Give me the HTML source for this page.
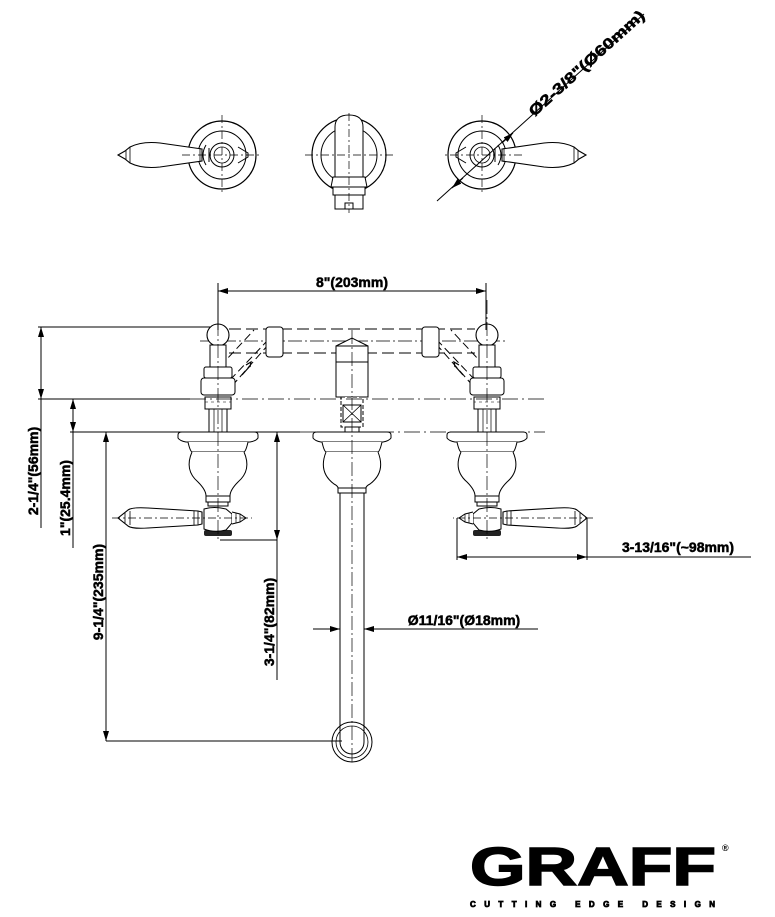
<!DOCTYPE html>
<html><head><meta charset="utf-8"><style>
html,body{margin:0;padding:0;background:#fff;}
svg{display:block;}
text{font-family:"Liberation Sans",Arial,sans-serif;font-weight:bold;fill:#000;}
.d{stroke:#000;stroke-width:0.5;}
</style></head><body>
<svg width="775" height="917" viewBox="0 0 775 917" xmlns="http://www.w3.org/2000/svg">
<defs>
<marker id="a" viewBox="0 0 10 6" refX="10" refY="3" markerWidth="10" markerHeight="6" orient="auto-start-reverse" markerUnits="userSpaceOnUse"><path d="M0,0 L10,3 L0,6 z" fill="#000"/></marker>
<g id="topv">
  <circle cx="0" cy="0" r="34" fill="#fff" stroke="#000" stroke-width="1.2"/>
  <circle cx="0" cy="0" r="24" fill="none" stroke="#000" stroke-width="1"/>
  <circle cx="0" cy="0" r="12" fill="none" stroke="#000" stroke-width="1"/>
  <circle cx="0" cy="0" r="8" fill="none" stroke="#000" stroke-width="0.8"/>
  <path d="M-16,-10 Q-22,0 -16,10 M-13,-7 L-13,7" fill="none" stroke="#000"/>
  <path d="M-20,-6 L-62,-12 Q-80,-14 -92,-8 L-97,-4 L-104,0 L-97,4 L-92,8 Q-80,14 -62,12 L-20,6 Z" fill="#fff" stroke="#000" stroke-width="1.1"/>
  <path d="M-92,-8 L-92,8 M-96,-5 L-96,5 M-22,-7 L-22,7" stroke="#000" stroke-width="0.8"/>
  <path d="M16,-8 L26,-2 L26,2 L16,8" fill="none" stroke="#000"/>
  <path d="M-40,0 H40 M0,-40 V40" stroke="#000" stroke-width="0.7" stroke-dasharray="8,3,2,3"/>
</g>
<g id="valve">
  <path d="M6,395 L50,345 M-6,375 L36,330 M12,380 L50,340" stroke="#000" stroke-width="1" stroke-dasharray="8,4" fill="none"/>
  <path d="M24,375 l8,-9 m-4,-1 l5,-3 l-1,5" stroke="#000" stroke-width="1.2" fill="none"/>
  <circle cx="0" cy="335" r="11" fill="#fff" stroke="#000" stroke-width="1.1"/>
  <rect x="-8" y="345" width="16" height="22" fill="#fff" stroke="#000"/>
  <rect x="-14" y="367" width="28" height="11" rx="2" fill="#fff" stroke="#000"/>
  <rect x="-17" y="378" width="34" height="17" rx="3" fill="#fff" stroke="#000"/>
  <rect x="-13" y="397" width="26" height="12" fill="#fff" stroke="#000"/>
  <path d="M-13,402 H13" stroke="#000" stroke-width="0.6" stroke-dasharray="3,3"/>
  <rect x="-9" y="409" width="18" height="23" fill="#fff" stroke="#000"/>
  <path d="M-4,409 V432 M4,409 V432" stroke="#000" stroke-width="0.7"/>
  <path d="M-40,435 Q-40,432 -36,432 H36 Q40,432 40,435 L40,438 Q38,441 32,442 H-32 Q-38,441 -40,438 Z" fill="#fff" stroke="#000"/>
  <path d="M-30,442 Q-28,451 -26,452 H26 Q28,451 30,442" fill="#fff" stroke="#000"/>
  <path d="M-26,452 Q-34,470 -20,482 Q-12,490 -12,496 H12 Q12,490 20,482 Q34,470 26,452" fill="#fff" stroke="#000"/>
  <rect x="-12" y="496" width="24" height="6" fill="#fff" stroke="#000"/>
  <rect x="-10" y="502" width="20" height="4" fill="#fff" stroke="#000"/>
  <rect x="-14" y="530" width="28" height="6" rx="2" fill="#222"/>
  <path d="M-14,509 Q-4,506 8,509 L14,514 V523 L8,530 Q-4,533 -14,529 Z" fill="#fff" stroke="#000"/>
  <path d="M14,512 L22,514 L28,518 L22,522 L14,524" fill="#fff" stroke="#000"/>
  <path d="M18,513 V523 M22,514 V522" stroke="#000" stroke-width="0.7"/>
  <path d="M-16,512 L-20,511 L-70,508 Q-86,507 -90,510 L-100,518 L-90,526 Q-86,529 -70,528 L-20,525 L-16,524 Z" fill="#fff" stroke="#000" stroke-width="1.1"/>
  <path d="M-20,511 V525 M-24,511 V525 M-88,511 V525 M-93,513 V523" stroke="#000" stroke-width="0.8"/>
  <path d="M-106,518 H34" stroke="#000" stroke-width="0.7" stroke-dasharray="8,3,2,3"/>
  <path d="M0,300 V540" stroke="#000" stroke-width="0.7" stroke-dasharray="14,3,2,3"/>
  <rect x="48" y="327" width="17" height="30" rx="3" fill="#fff" stroke="#000"/>
</g>
</defs>

<use href="#topv" transform="translate(222,155)"/>
<use href="#topv" transform="translate(482,155) scale(-1,1)"/>
<g transform="translate(349,155)">
  <circle r="37" fill="#fff" stroke="#000" stroke-width="1.2"/>
  <circle r="28" fill="none" stroke="#000"/>
  <path d="M-14,24 V-28 Q-14,-40 0,-40 Q14,-40 14,-28 V24" fill="#fff" stroke="#000"/>
  <path d="M-16,22 H16 L18,32 H-18 Z" fill="#fff" stroke="#000"/>
  <rect x="-16" y="32" width="32" height="8" fill="#fff" stroke="#000"/>
  <rect x="-14" y="40" width="28" height="14" fill="#fff" stroke="#000"/>
  <rect x="-4" y="48" width="8" height="6" fill="#fff" stroke="#000"/>
  <path d="M-44,0 H44 M0,-42 V58" stroke="#000" stroke-width="0.7" stroke-dasharray="8,3,2,3"/>
</g>
<line x1="437" y1="201" x2="644" y2="14" stroke="#000" stroke-width="1"/>
<line x1="452" y1="188" x2="463" y2="178" stroke="#000" marker-start="url(#a)"/>
<line x1="513" y1="133" x2="502" y2="143" stroke="#000" marker-start="url(#a)"/>
<text class="d" transform="translate(590,67) rotate(-42)" font-size="15" text-anchor="middle" textLength="150" lengthAdjust="spacingAndGlyphs">Ø2-3/8"(Ø60mm)</text>

<path d="M229,329 H475 M229,353 H475" stroke="#000" stroke-width="1" stroke-dasharray="12,5" fill="none"/>
<path d="M200,341 H505" stroke="#000" stroke-width="0.7" stroke-dasharray="14,3,2,3"/>

<use href="#valve" transform="translate(218,0)"/>
<use href="#valve" transform="translate(487,0) scale(-1,1)"/>

<g>
  <path d="M336,346 L352,338 L368,346 Z" fill="#fff" stroke="#000"/>
  <rect x="336" y="346" width="32" height="16" fill="#fff" stroke="#000"/>
  <rect x="336" y="362" width="32" height="35" fill="#fff" stroke="#000"/>
  <rect x="341" y="397" width="22" height="30" fill="#fff" stroke="#000" stroke-dasharray="4,2"/>
  <rect x="343" y="405" width="18" height="17" fill="#fff" stroke="#000"/>
  <path d="M343,405 L361,422 M361,405 L343,422" stroke="#000" stroke-width="0.8"/>
  <rect x="345" y="427" width="14" height="5" fill="#fff" stroke="#000"/>
  <path d="M313,435 Q313,432 317,432 H387 Q391,432 391,435 L391,438 Q389,441 383,442 H321 Q315,441 313,438 Z" fill="#fff" stroke="#000"/>
  <path d="M322,442 Q324,451 326,452 H378 Q380,451 382,442" fill="#fff" stroke="#000"/>
  <path d="M326,452 Q318,472 334,484 Q338,486 338,488 H366 Q366,486 370,484 Q386,472 378,452" fill="#fff" stroke="#000"/>
  <rect x="338" y="488" width="28" height="5" fill="#fff" stroke="#000"/>
  <path d="M340,493 V742 M364,493 V742" stroke="#000" fill="none"/>
  <circle cx="352" cy="742" r="20" fill="none" stroke="#000"/>
  <circle cx="352" cy="742" r="16" fill="none" stroke="#000" stroke-width="0.8"/>
  <path d="M340,742 A12,12 0 0 0 364,742" fill="none" stroke="#000"/>
  <path d="M352,330 V765" stroke="#000" stroke-width="0.7" stroke-dasharray="14,3,2,3"/>
</g>

<path d="M38,327 H210" stroke="#000"/>
<path d="M38,399 H190" stroke="#000"/>
<path d="M190,399 H545" stroke="#000" stroke-width="0.8" stroke-dasharray="16,4,2,4"/>
<path d="M70,432 H300" stroke="#000"/>
<path d="M300,432 H545" stroke="#000" stroke-width="0.8" stroke-dasharray="16,4,2,4"/>

<path d="M218,283 V330 M486,283 V330" stroke="#000"/>
<line x1="218" y1="291" x2="486" y2="291" stroke="#000" marker-start="url(#a)" marker-end="url(#a)"/>
<text class="d" x="352" y="287" font-size="14" text-anchor="middle">8"(203mm)</text>

<line x1="41" y1="327" x2="41" y2="399" stroke="#000" marker-start="url(#a)" marker-end="url(#a)"/>
<path d="M41,399 V528" stroke="#000"/>
<text class="d" transform="translate(38,471) rotate(-90)" font-size="14" text-anchor="middle">2-1/4"(56mm)</text>
<line x1="73" y1="399" x2="73" y2="432" stroke="#000" marker-start="url(#a)" marker-end="url(#a)"/>
<path d="M73,432 V548" stroke="#000"/>
<text class="d" transform="translate(70,498) rotate(-90)" font-size="14" text-anchor="middle">1"(25.4mm)</text>
<line x1="106" y1="432" x2="106" y2="741" stroke="#000" marker-start="url(#a)" marker-end="url(#a)"/>
<path d="M106,741 H342" stroke="#000"/>
<text class="d" transform="translate(103,592) rotate(-90)" font-size="14" text-anchor="middle">9-1/4"(235mm)</text>
<line x1="277" y1="432" x2="277" y2="540" stroke="#000" marker-start="url(#a)" marker-end="url(#a)"/>
<path d="M277,540 V680 M220,540 H277" stroke="#000"/>
<text class="d" transform="translate(274,622) rotate(-90)" font-size="14" text-anchor="middle">3-1/4"(82mm)</text>
<path d="M457,518 V560 M587,518 V560" stroke="#000"/>
<line x1="457" y1="557" x2="587" y2="557" stroke="#000" marker-start="url(#a)" marker-end="url(#a)"/>
<path d="M587,557 H751" stroke="#000"/>
<text class="d" x="678" y="552" font-size="14" text-anchor="middle">3-13/16"(~98mm)</text>
<line x1="313" y1="629" x2="340" y2="629" stroke="#000" marker-end="url(#a)"/>
<line x1="390" y1="629" x2="364" y2="629" stroke="#000" marker-end="url(#a)"/>
<path d="M390,629 H538" stroke="#000"/>
<text class="d" x="464" y="625" font-size="14" text-anchor="middle">Ø11/16"(Ø18mm)</text>

<text x="470" y="885" font-size="54" textLength="246" lengthAdjust="spacingAndGlyphs" style="font-weight:900;stroke:#000;stroke-width:1.5">GRAFF</text>
<text x="722" y="851" font-size="9">®</text>
<text x="470" y="907" font-size="8" textLength="245" lengthAdjust="spacing" style="stroke:#000;stroke-width:0.8">CUTTING EDGE DESIGN</text>
</svg>
</body></html>
